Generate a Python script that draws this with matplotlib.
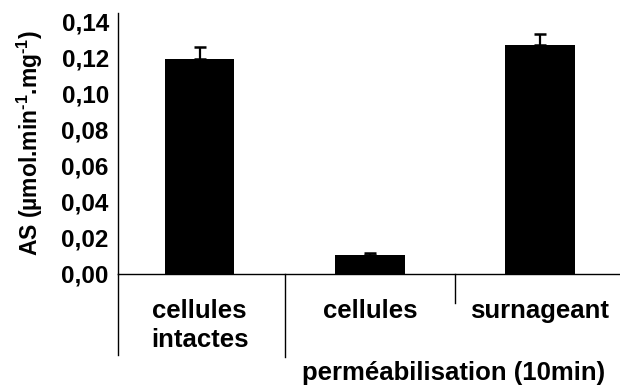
import matplotlib
matplotlib.use("Agg")
import matplotlib.pyplot as plt
from matplotlib.ticker import FixedLocator, FixedFormatter

plt.rcParams['font.family'] = ['Liberation Sans', 'DejaVu Sans']
plt.rcParams['font.weight'] = 'bold'
plt.rcParams['mathtext.fontset'] = 'custom'
plt.rcParams['mathtext.rm'] = 'Liberation Sans:bold'
plt.rcParams['mathtext.bf'] = 'Liberation Sans:bold'
plt.rcParams['mathtext.it'] = 'Liberation Sans:bold'
plt.rcParams['mathtext.default'] = 'rm'

# Activity values and standard errors
categories = ["cellules\nintactes", "cellules", "surnageant"]
activity = [0.119, 0.0107, 0.127]
errors = [0.0065, 0.0008, 0.006]
group_label = "perméabilisation (10min)"
ytick_values = [0.00, 0.02, 0.04, 0.06, 0.08, 0.10, 0.12, 0.14]
ytick_labels = ["0,00", "0,02", "0,04", "0,06", "0,08", "0,10", "0,12", "0,14"]
ylabel = r"AS (µmol.min$^{\text{-}1}$.mg$^{\text{-}1}$)"

fig = plt.figure(figsize=(6.2, 3.87), dpi=100)
ax = fig.add_axes([0.190, 0.292, 0.81, 0.674])

x = list(range(len(categories)))
ax.bar(x, activity, width=0.41, color='black', zorder=2)
ax.errorbar(x, activity, yerr=[[0] * len(errors), errors], fmt='none',
            ecolor='black', elinewidth=1.6, capsize=4.5, capthick=1.8, zorder=1)

ax.set_xlim(-0.48, 2.47)
ax.set_ylim(0, 0.1445)

ax.yaxis.set_major_locator(FixedLocator(ytick_values))
ax.yaxis.set_major_formatter(FixedFormatter(ytick_labels))
ax.tick_params(axis='y', length=0, pad=6.5, labelsize=17.5)
ax.set_xticks(x)
ax.set_xticklabels(categories, fontsize=18.5, linespacing=1.27)
ax.tick_params(axis='x', length=0, pad=18)

fig.text(30 / 620, 1 - 142.5 / 387, ylabel, rotation=90, ha='center',
         va='center', fontsize=16.5, fontweight='bold')

for s in ['top', 'right']:
    ax.spines[s].set_visible(False)
for s in ['left', 'bottom']:
    ax.spines[s].set_linewidth(1.0)

# Category separator lines hanging below the axis
xform = ax.get_xaxis_transform()
ax.plot([0, 0], [0, -0.31], transform=ax.transAxes, color='black', lw=1.0, clip_on=False)
ax.plot([0.5, 0.5], [0, -0.32], transform=xform, color='black', lw=1.0, clip_on=False)
ax.plot([1.5, 1.5], [0, -0.11], transform=xform, color='black', lw=1.0, clip_on=False)

ax.text(1.49, -0.378, group_label, transform=xform, ha='center', va='center',
        fontsize=18.5, fontweight='bold')

fig.savefig("out.png", dpi=100)
